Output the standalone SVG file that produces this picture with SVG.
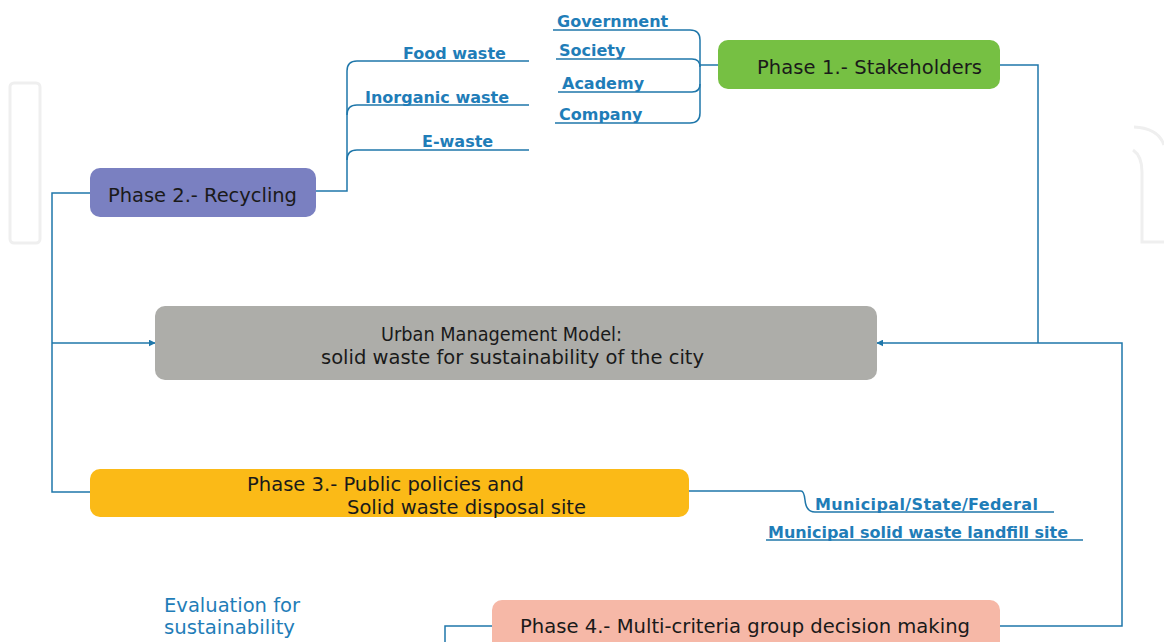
<svg xmlns="http://www.w3.org/2000/svg" width="1164" height="642" viewBox="0 0 1164 642">
<defs>
<style>
.conn{fill:none;stroke:#1F77AA;stroke-width:1.5}
.wm{fill:none;stroke:#EFEFEF;stroke-width:3}
.lbl{font-family:"DejaVu Sans",sans-serif;font-size:16px;font-weight:bold;fill:#1F7DB8}
.ph{font-family:"DejaVu Sans",sans-serif;font-size:19.5px;fill:#1a1a1a}
.pn{font-family:"DejaVu Sans Condensed","DejaVu Sans",sans-serif;font-size:20px;fill:#1a1a1a}
.ev{font-family:"DejaVu Sans Condensed","DejaVu Sans",sans-serif;font-size:20px;fill:#1F7DB8}
</style>
<marker id="arr" viewBox="0 0 10 10" refX="9" refY="5" markerWidth="7" markerHeight="7" orient="auto" markerUnits="userSpaceOnUse">
<path d="M0,0 L10,5 L0,10 z" fill="#1F77AA"/>
</marker>
</defs>
<rect width="1164" height="642" fill="#ffffff"/>
<g id="watermark">
<rect class="wm" x="10" y="83" width="30" height="160" rx="4"/>
<path class="wm" d="M1134,127 Q1158,128 1164,145"/>
<path class="wm" d="M1133,150 Q1142,156 1142,172 V242 H1164"/>
</g>
<g id="connectors">
<path class="conn" d="M553,30 H690 Q700,30 700,40 V113 Q700,123 690,123 H555"/>
<path class="conn" d="M556,59 H692 Q700,59 700,67"/>
<path class="conn" d="M558,92 H692 Q700,92 700,84"/>
<path class="conn" d="M700,65 H718"/>
<path class="conn" d="M316,191 H347 V71 Q347,61 357,61 H529"/>
<path class="conn" d="M347,115 Q347,105 357,105 H529"/>
<path class="conn" d="M347,160 Q347,150 357,150 H529"/>
<path class="conn" d="M90,193 H52 V492 H90"/>
<path class="conn" d="M52,343 H155" marker-end="url(#arr)"/>
<path class="conn" d="M1000,65 H1038 V343"/>
<path class="conn" d="M1000,626 H1122 V343 H877" marker-end="url(#arr)"/>
<path class="conn" d="M689,491 H801 Q804,491 805,500 Q806,512 815,512 H1054"/>
<path class="conn" d="M766,540 H1083"/>
<path class="conn" d="M492,626 H445 V642"/>
</g>
<g id="stakeholder-labels">
<text class="lbl" x="557" y="27">Government</text>
<text class="lbl" x="559" y="56">Society</text>
<text class="lbl" x="562" y="89">Academy</text>
<text class="lbl" x="559" y="120">Company</text>
</g>
<g id="recycling-labels">
<text class="lbl" x="403" y="59">Food waste</text>
<text class="lbl" x="365" y="103">Inorganic waste</text>
<text class="lbl" x="422" y="147">E-waste</text>
</g>
<g id="policy-labels">
<text class="lbl" x="815" y="510" textLength="223">Municipal/State/Federal</text>
<text class="lbl" x="768" y="538" textLength="300">Municipal solid waste landfill site</text>
</g>
<g id="phase1">
<rect x="718" y="40" width="282" height="49" rx="10" fill="#76C043"/>
<text class="ph" x="757" y="74" textLength="225">Phase 1.- Stakeholders</text>
</g>
<g id="phase2">
<rect x="90" y="168" width="226" height="49" rx="10" fill="#7A80C1"/>
<text class="ph" x="108" y="202" textLength="189">Phase 2.- Recycling</text>
</g>
<g id="central">
<rect x="155" y="306" width="722" height="74" rx="10" fill="#ADADA9"/>
<text class="pn" x="381" y="341" textLength="241" lengthAdjust="spacingAndGlyphs">Urban Management Model:</text>
<text class="pn" x="321" y="364" textLength="383" lengthAdjust="spacingAndGlyphs">solid waste for sustainability of the city</text>
</g>
<g id="phase3">
<rect x="90" y="469" width="599" height="48" rx="10" fill="#FBBA17"/>
<text class="pn" x="247" y="491" textLength="277" lengthAdjust="spacingAndGlyphs">Phase 3.- Public policies and</text>
<text class="pn" x="347" y="514" textLength="239" lengthAdjust="spacingAndGlyphs">Solid waste disposal site</text>
</g>
<g id="phase4">
<rect x="492" y="600" width="508" height="52" rx="10" fill="#F6B8A7"/>
<text class="pn" x="520" y="633" textLength="450" lengthAdjust="spacingAndGlyphs">Phase 4.- Multi-criteria group decision making</text>
</g>
<g id="evaluation">
<text class="ev" x="164" y="612" textLength="136" lengthAdjust="spacingAndGlyphs">Evaluation for</text>
<text class="ev" x="164" y="634" textLength="131" lengthAdjust="spacingAndGlyphs">sustainability</text>
</g>
</svg>
